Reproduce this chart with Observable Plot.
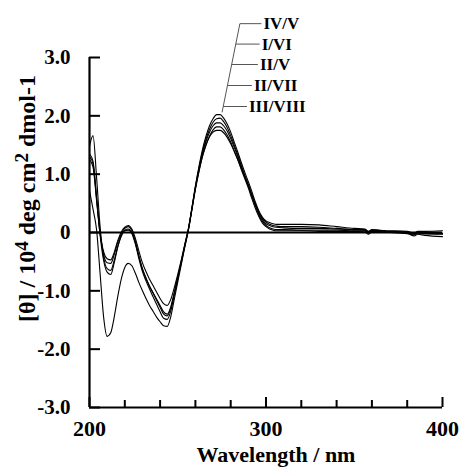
<!DOCTYPE html>
<html><head><meta charset="utf-8">
<script src="https://cdn.jsdelivr.net/npm/d3@7"></script>
<script src="https://cdn.jsdelivr.net/npm/@observablehq/plot@0.6"></script>
<style>body{margin:0;background:#fff} svg{display:block}</style>
</head><body><div id="chart"></div>
<script>
// Wavelength grid (nm)
const wavelengths = [200,202,204,206,208,210,212,214,216,218,220,222,224,226,228,230,232,234,236,238,240,242,244,246,248,250,252,254,256,258,260,262,264,266,268,270,272,274,276,278,280,282,284,286,288,290,292,294,296,298,300,302,304,306,310,320,330,340,350,356,358,360,370,380,384,386,390,400];

// Series names (legend order)
const seriesNames = ["IV/V","I/VI","II/V","II/VII","III/VIII"];

// [θ] values in 10^4 deg cm2 dmol-1
const valsIV_V = [1.35,1.22,0.62,0.0,-0.38,-0.52,-0.53,-0.38,-0.17,-0.02,0.07,0.10,0.03,-0.15,-0.40,-0.62,-0.78,-0.92,-1.04,-1.16,-1.28,-1.40,-1.43,-1.30,-1.05,-0.78,-0.50,-0.22,0.06,0.42,0.80,1.13,1.42,1.65,1.83,1.95,2.02,2.02,1.96,1.86,1.72,1.55,1.38,1.20,1.03,0.87,0.70,0.52,0.37,0.26,0.20,0.17,0.15,0.14,0.14,0.14,0.13,0.10,0.07,0.06,0.02,0.05,0.01,-0.01,-0.04,-0.01,-0.02,-0.02];
const valsI_VI = [1.30,1.18,0.58,-0.05,-0.48,-0.68,-0.72,-0.52,-0.25,-0.06,0.04,0.06,0.0,-0.18,-0.42,-0.63,-0.79,-0.92,-1.03,-1.14,-1.25,-1.36,-1.40,-1.28,-1.03,-0.77,-0.50,-0.22,0.05,0.41,0.78,1.10,1.38,1.60,1.77,1.89,1.95,1.96,1.90,1.80,1.66,1.50,1.33,1.15,0.98,0.82,0.65,0.48,0.33,0.22,0.15,0.12,0.10,0.09,0.08,0.07,0.07,0.06,0.05,0.04,0.00,0.03,0.02,0.01,-0.02,0.01,0.0,-0.01];
const valsII_V = [1.48,1.66,0.95,0.10,-0.42,-0.62,-0.65,-0.48,-0.24,-0.06,0.03,0.04,-0.02,-0.20,-0.45,-0.67,-0.83,-0.97,-1.10,-1.23,-1.36,-1.47,-1.49,-1.35,-1.08,-0.80,-0.52,-0.23,0.04,0.40,0.77,1.08,1.35,1.56,1.72,1.83,1.88,1.88,1.83,1.74,1.61,1.46,1.30,1.13,0.96,0.80,0.62,0.45,0.30,0.19,0.12,0.08,0.06,0.05,0.05,0.04,0.04,0.04,0.03,0.03,-0.01,0.02,0.01,0.0,-0.03,0.0,-0.02,-0.03];
const valsII_VII = [0.72,0.40,0.05,-0.70,-1.45,-1.78,-1.72,-1.45,-1.10,-0.80,-0.60,-0.53,-0.57,-0.70,-0.86,-1.00,-1.13,-1.25,-1.35,-1.45,-1.53,-1.60,-1.61,-1.45,-1.15,-0.85,-0.55,-0.25,0.03,0.38,0.74,1.04,1.30,1.50,1.65,1.76,1.81,1.81,1.76,1.67,1.55,1.40,1.25,1.08,0.92,0.76,0.58,0.41,0.27,0.16,0.10,0.06,0.04,0.03,0.03,0.03,0.02,0.02,0.02,0.01,-0.03,0.01,0.0,-0.02,-0.06,-0.03,-0.05,-0.07];
const valsIII_VIII = [1.25,1.12,0.55,-0.02,-0.33,-0.45,-0.47,-0.34,-0.14,0.01,0.09,0.12,0.06,-0.10,-0.32,-0.52,-0.67,-0.80,-0.91,-1.02,-1.13,-1.22,-1.25,-1.15,-0.95,-0.72,-0.47,-0.20,0.06,0.40,0.75,1.05,1.31,1.50,1.64,1.72,1.75,1.75,1.71,1.63,1.52,1.39,1.25,1.10,0.95,0.80,0.64,0.48,0.34,0.24,0.18,0.14,0.12,0.11,0.10,0.10,0.09,0.07,0.05,0.05,0.01,0.04,0.03,0.02,-0.01,0.02,0.02,0.03];
const seriesValues = [valsIV_V, valsI_VI, valsII_V, valsII_VII, valsIII_VIII];

// Axis ticks and labels
const yTicks = [-3,-2,-1,0,1,2,3];
const yTickLabels = ["-3.0","-2.0","-1.0","0","1.0","2.0","3.0"];
const xMinorTicks = [220,240,260,280,320,340,360,380];
const xMajorTicks = [200,300,400];
const xMajorLabels = ["200","300","400"];
const xLabel = "Wavelength / nm";
const yLabelParts = ["[θ] / 10", "4", " deg cm", "2", " dmol-1"];
const yLabelSuper = [false, true, false, true, false];

// Legend label anchors (data coordinates) and leader line
const labelWl = [298.0, 297.0, 296.0, 292.6, 289.8];
const labelVal = [3.58, 3.23, 2.88, 2.52, 2.16];
const leaderTop = {wl: 285.2, val: 3.58};
const leaderBottom = {wl: 275.1, val: 2.06};

const data = seriesNames.flatMap((s, i) => wavelengths.map((w, j) => ({series: s, wl: w, v: seriesValues[i][j]})));
const legend = seriesNames.map((s, i) => ({name: s, wl: labelWl[i], val: labelVal[i]}));
const diagWl = v => leaderTop.wl + (leaderBottom.wl - leaderTop.wl) * (leaderTop.val - v) / (leaderTop.val - leaderBottom.val);
const branches = legend.map(d => ({x1: diagWl(d.val), x2: d.wl - 0.6, y: d.val}));

const chart = Plot.plot({
  width: 460, height: 467,
  marginLeft: 89, marginRight: 18, marginTop: 57, marginBottom: 60,
  style: {fontFamily: "Liberation Serif", fontWeight: "bold", background: "#fff", color: "#000"},
  x: {domain: [200, 400]},
  y: {domain: [-3, 3]},
  marks: [
    Plot.ruleY([0], {stroke: "#000", strokeWidth: 2}),
    Plot.line(data, {x: "wl", y: "v", z: "series", stroke: "#000", strokeWidth: 1.1, curve: "monotone-x"}),
    Plot.ruleX([200], {stroke: "#000", strokeWidth: 2.2}),
    Plot.ruleY([-3], {stroke: "#000", strokeWidth: 2.2}),
    Plot.axisY({ticks: yTicks, tickSize: -11, tickPadding: 30, strokeWidth: 2,
      tickFormat: d => yTickLabels[yTicks.indexOf(d)], fontSize: 21, fontWeight: "bold", label: null}),
    Plot.axisX({ticks: xMinorTicks, tickSize: -7, strokeWidth: 2, tickFormat: () => "", label: null}),
    Plot.axisX({ticks: xMajorTicks, tickSize: -10, tickPadding: 23, strokeWidth: 2,
      tickFormat: d => xMajorLabels[xMajorTicks.indexOf(d)], fontSize: 22, fontWeight: "bold", label: null}),
    Plot.text([xLabel], {frameAnchor: "bottom", dx: 10, dy: 47, fontSize: 22, fontWeight: "bold", lineAnchor: "middle", textAnchor: "middle"}),
    Plot.text([yLabelParts.join("")], {frameAnchor: "left", rotate: -90, dx: -62, dy: -34, fontSize: 24, fontWeight: "bold", lineAnchor: "middle", textAnchor: "middle", className: "ylab"}),
    Plot.link([0], {x1: leaderTop.wl, y1: leaderTop.val, x2: leaderBottom.wl, y2: leaderBottom.val, stroke: "#555", strokeWidth: 1}),
    Plot.link(branches, {x1: "x1", x2: "x2", y1: "y", y2: "y", stroke: "#555", strokeWidth: 1}),
    Plot.text(legend, {x: "wl", y: "val", text: "name", textAnchor: "start", dx: 1, fontSize: 17, fontWeight: "bold", lineAnchor: "middle"})
  ]
});
document.getElementById("chart").appendChild(chart);

// superscripts in the y-axis label
const t = d3.select(chart).select("g.ylab text");
if (!t.empty()) {
  t.text(null);
  yLabelParts.forEach((p, i) => {
    const ts = t.append("tspan").text(p);
    if (yLabelSuper[i]) ts.attr("dy", "-0.4em").attr("font-size", "80%");
    else if (i > 0 && yLabelSuper[i - 1]) ts.attr("dy", "0.32em");
  });
}
</script></body></html>
